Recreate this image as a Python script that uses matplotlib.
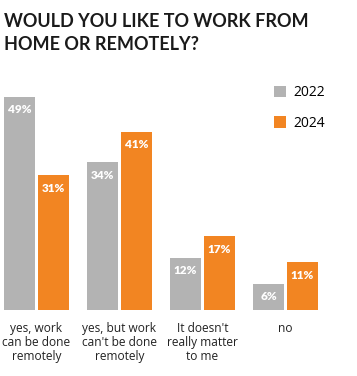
#!/usr/bin/python
#coding: utf-8

import matplotlib
matplotlib.use('Agg')
import matplotlib.pyplot as plt

categories = ['yes, work\ncan be done\nremotely', "yes, but work\ncan't be done\nremotely",
              "It doesn't\nreally matter\nto me", 'no']
v2022 = [49, 34, 12, 6]
v2024 = [31, 41, 17, 11]
years = ['2022', '2024']

grey = '#B3B3B3'
orange = '#F28522'

W, H = 357, 376
fig = plt.figure(figsize=(W / 100, H / 100), dpi=100)

# axes in pixel-like units: baseline at y=310 from top, 4.35 px per %
ax = fig.add_axes([0, 66 / H, 1, 217.5 / H])
ax.set_xlim(0, W)
ax.set_ylim(0, 50)
ax.axis('off')

centers = [36.5 + 83 * i for i in range(len(categories))]
b1 = ax.bar([c - 17 for c in centers], v2022, width=31, color=grey, label=years[0])
b2 = ax.bar([c + 17 for c in centers], v2024, width=31, color=orange, label=years[1])

for bars, vals in ((b1, v2022), (b2, v2024)):
    for r, v in zip(bars, vals):
        ax.annotate('%d%%' % v, (r.get_x() + r.get_width() / 2, v),
                    xytext=(0, -9.4), textcoords='offset points',
                    ha='center', va='center', color='white',
                    fontsize=8.5, fontweight='heavy', family='Lato')

for c, lab in zip(centers, categories):
    fig.text(c / W, 1 - 322 / H, lab, ha='center', va='top',
             fontsize=8.6, color='#222222', family='Open Sans', linespacing=1.12)

fig.text(4 / W, 1 - 13 / H, 'WOULD YOU LIKE TO WORK FROM\nHOME OR REMOTELY?',
         ha='left', va='top', fontsize=13, fontweight='bold',
         family='Lato', color='#1a1a1a', linespacing=1.4)

ax.legend(loc='upper left', bbox_to_anchor=(274 / W, 1 - 85.5 / H),
          bbox_transform=fig.transFigure, frameon=False,
          handlelength=0.86, handleheight=0.86, handletextpad=0.5,
          labelspacing=1.1, borderpad=0, borderaxespad=0,
          prop={'family': 'Open Sans', 'size': 10})

fig.savefig('out.png', dpi=100)
